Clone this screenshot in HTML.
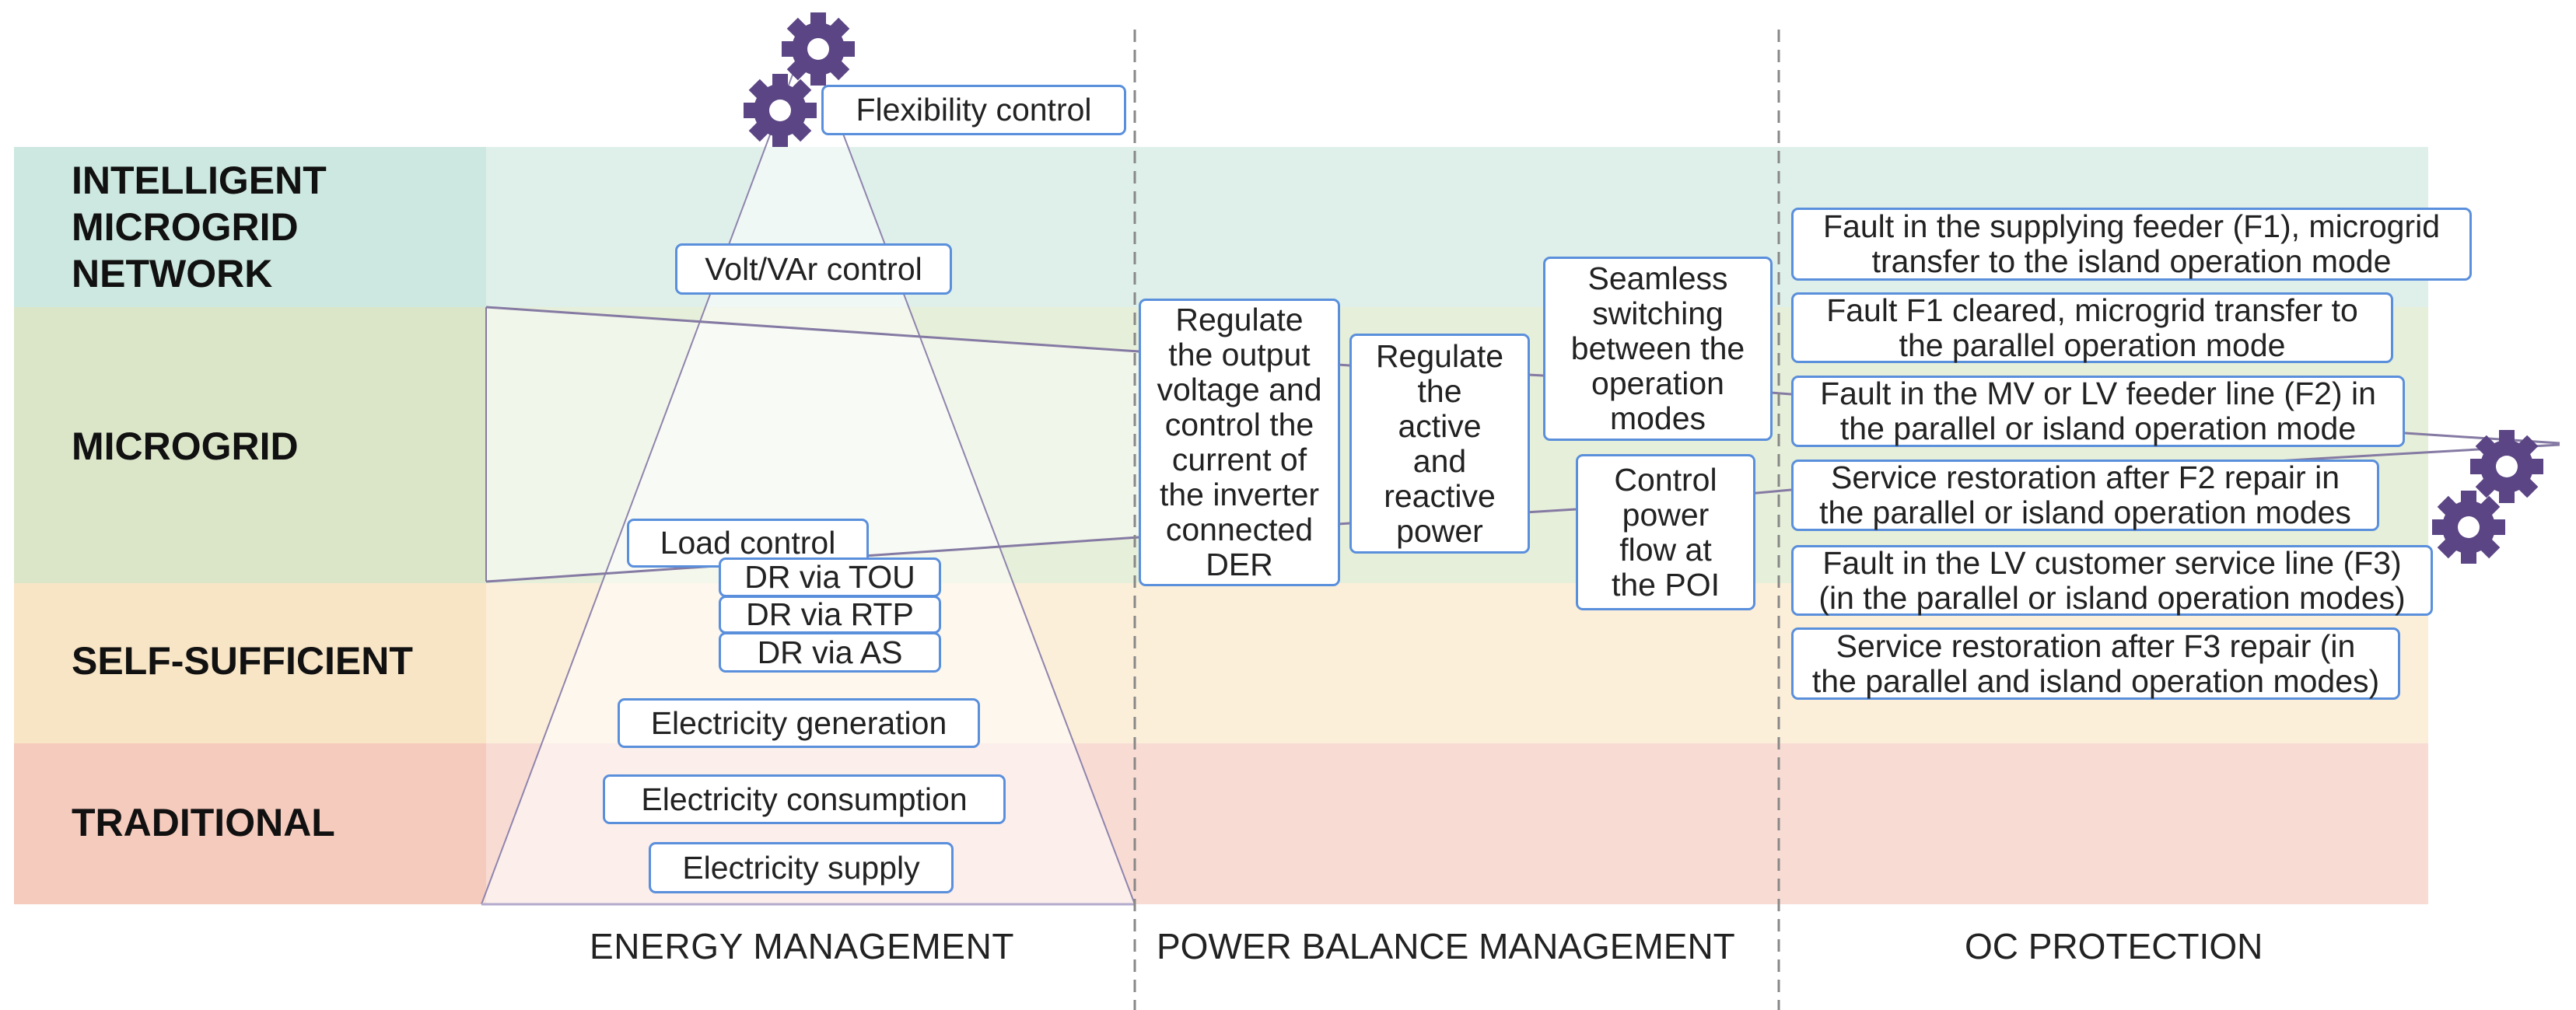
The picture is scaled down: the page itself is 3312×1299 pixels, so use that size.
<!DOCTYPE html>
<html><head><meta charset="utf-8"><style>
body{margin:0;width:3312px;height:1299px;background:#fff;position:relative;overflow:hidden;font-family:"Liberation Sans",Arial,sans-serif;}
.b{position:absolute;background:#fff;border:3px solid #5a8fdc;border-radius:9px;box-sizing:border-box;display:flex;align-items:center;justify-content:center;text-align:center;font-size:41px;line-height:45px;color:#222;}
.lab{position:absolute;left:92px;font-weight:bold;font-size:50px;line-height:60px;color:#111;}
.col{position:absolute;top:1190px;font-size:46px;color:#222;white-space:nowrap;}
</style></head><body>
<svg width="3312" height="1299" style="position:absolute;left:0;top:0">
<defs>
<g id="gear">
<g fill="#5b4584">
<circle r="34"/>
<rect x="-10" y="-47" width="20" height="94"/>
<rect x="-10" y="-47" width="20" height="94" transform="rotate(45)"/>
<rect x="-10" y="-47" width="20" height="94" transform="rotate(90)"/>
<rect x="-10" y="-47" width="20" height="94" transform="rotate(135)"/>
</g>
<circle r="14" fill="#fff"/>
</g>
</defs>
<rect x="18" y="189" width="607" height="206" fill="#cde8e0"/>
<rect x="625" y="189" width="2497" height="206" fill="#dff0eb"/>
<rect x="18" y="395" width="607" height="355" fill="#dbe6c9"/>
<rect x="625" y="395" width="2497" height="355" fill="#e6efd9"/>
<rect x="18" y="750" width="607" height="206" fill="#f8e5c6"/>
<rect x="625" y="750" width="2497" height="206" fill="#fbefda"/>
<rect x="18" y="956" width="607" height="207" fill="#f5cbbd"/>
<rect x="625" y="956" width="2497" height="207" fill="#f8dcd4"/>
<polygon points="625,395 1464,452 1464,691 625,748" fill="#fff" fill-opacity="0.45"/>
<polygon points="1037,48 1459,1163 619,1163" fill="#fff" fill-opacity="0.5"/>
<line x1="1037" y1="48" x2="619" y2="1163" stroke="#8f84ad" stroke-width="2"/>
<line x1="1037" y1="48" x2="1459" y2="1163" stroke="#8f84ad" stroke-width="2"/>
<line x1="619" y1="1163" x2="1459" y2="1163" stroke="#b3a9cc" stroke-width="3"/>
<polyline points="625,395 1464,452 1735,470 1984,483 2303,507 3092,557 3291,570" fill="none" stroke="#857aa3" stroke-width="3"/>
<polyline points="625,748 1464,691 1735,673 2026,655 2303,630 2977,590 3291,572" fill="none" stroke="#857aa3" stroke-width="3"/>
<line x1="625" y1="395" x2="625" y2="748" stroke="#857aa3" stroke-width="2"/>
<line x1="1459" y1="38" x2="1459" y2="1299" stroke="#888" stroke-width="3" stroke-dasharray="16,10"/>
<line x1="2287" y1="38" x2="2287" y2="1299" stroke="#888" stroke-width="3" stroke-dasharray="16,10"/>
<use href="#gear" x="1052" y="63"/>
<use href="#gear" x="1003" y="142"/>
<use href="#gear" x="3223" y="600"/>
<use href="#gear" x="3174" y="678"/>
</svg>

<div class="lab" style="top:202px">INTELLIGENT<br>MICROGRID<br>NETWORK</div>
<div class="lab" style="top:544px">MICROGRID</div>
<div class="lab" style="top:820px">SELF-SUFFICIENT</div>
<div class="lab" style="top:1028px">TRADITIONAL</div>

<div class="b" style="left:1056px;top:109px;width:392px;height:65px">Flexibility control</div>
<div class="b" style="left:868px;top:313px;width:356px;height:66px">Volt/VAr control</div>
<div class="b" style="left:806px;top:667px;width:311px;height:63px">Load control</div>
<div class="b" style="left:924px;top:717px;width:286px;height:51px">DR via TOU</div>
<div class="b" style="left:924px;top:766px;width:286px;height:49px">DR via RTP</div>
<div class="b" style="left:924px;top:813px;width:286px;height:52px">DR via AS</div>
<div class="b" style="left:794px;top:898px;width:466px;height:64px">Electricity generation</div>
<div class="b" style="left:775px;top:996px;width:518px;height:64px">Electricity consumption</div>
<div class="b" style="left:834px;top:1083px;width:392px;height:66px">Electricity supply</div>

<div class="b" style="left:1464px;top:384px;width:259px;height:370px">Regulate<br>the output<br>voltage and<br>control the<br>current of<br>the inverter<br>connected<br>DER</div>
<div class="b" style="left:1735px;top:429px;width:232px;height:283px">Regulate<br>the<br>active<br>and<br>reactive<br>power</div>
<div class="b" style="left:1984px;top:330px;width:295px;height:237px">Seamless<br>switching<br>between the<br>operation<br>modes</div>
<div class="b" style="left:2026px;top:584px;width:231px;height:201px">Control<br>power<br>flow at<br>the POI</div>

<div class="b" style="left:2303px;top:267px;width:875px;height:94px">Fault in the supplying feeder (F1), microgrid<br>transfer to the island operation mode</div>
<div class="b" style="left:2303px;top:376px;width:774px;height:91px">Fault F1 cleared, microgrid transfer to<br>the parallel operation mode</div>
<div class="b" style="left:2303px;top:483px;width:789px;height:92px">Fault in the MV or LV feeder line (F2) in<br>the parallel or island operation mode</div>
<div class="b" style="left:2303px;top:591px;width:756px;height:92px">Service restoration after F2 repair in<br>the parallel or island operation modes</div>
<div class="b" style="left:2303px;top:701px;width:825px;height:91px">Fault in the LV customer service line (F3)<br>(in the parallel or island operation modes)</div>
<div class="b" style="left:2303px;top:807px;width:783px;height:93px">Service restoration after F3 repair (in<br>the parallel and island operation modes)</div>

<div class="col" style="left:758px;letter-spacing:0.6px">ENERGY MANAGEMENT</div>
<div class="col" style="left:1487px">POWER BALANCE MANAGEMENT</div>
<div class="col" style="left:2526px">OC PROTECTION</div>
</body></html>
